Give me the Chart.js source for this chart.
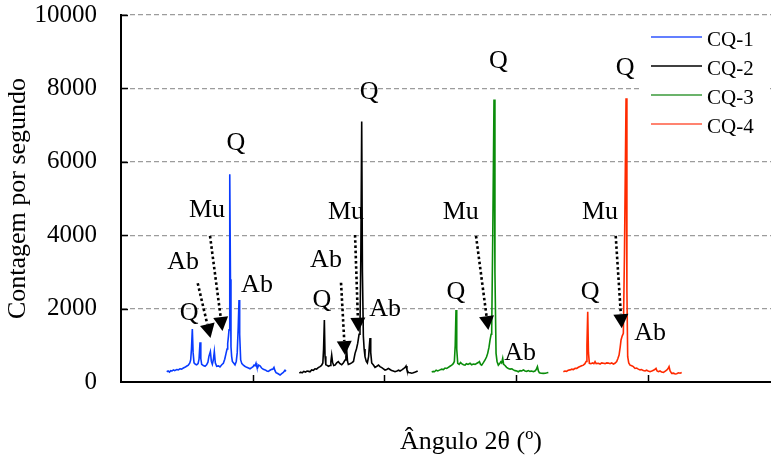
<!DOCTYPE html>
<html><head><meta charset="utf-8">
<script src="https://cdn.jsdelivr.net/npm/chart.js@4.4.1/dist/chart.umd.min.js"></script>
<style>html,body{margin:0;padding:0;background:#fff}#wrap{width:771px;height:458px}</style>
</head><body><div id="wrap"><canvas id="c" width="771" height="458"></canvas></div>
<script>
// ---------------- data ----------------
const seriesNames = ['CQ-1', 'CQ-2', 'CQ-3', 'CQ-4'];
const xOffsets = [0, 20, 40, 60];           // horizontal shift of each pattern (º)
const yTickValues = [0, 2000, 4000, 6000, 8000, 10000];
const xTickValues = [30, 50, 70, 90];

const angleCQ1 = [16.94,17.15,17.35,17.55,17.75,17.95,18.15,18.45,18.70,18.95,19.20,19.47,19.70,19.95,20.22,20.45,20.58,20.70,20.83,20.95,21.09,21.30,21.49,21.70,21.85,22.00,22.12,22.25,22.50,22.76,23.00,23.20,23.35,23.57,23.72,23.87,24.02,24.17,24.32,24.53,24.80,25.03,25.30,25.54,25.75,25.95,26.10,26.20,26.32,26.40,26.48,26.55,26.62,26.70,26.80,26.91,27.10,27.31,27.50,27.65,27.80,27.92,28.02,28.17,28.35,28.58,28.80,29.09,29.35,29.59,29.85,30.05,30.20,30.35,30.50,30.62,30.75,30.90,31.11,31.35,31.61,31.90,32.15,32.37,32.62,32.88,33.05,33.23,33.38,33.54,33.80,34.15,34.40,34.65,34.90,35.05];
const countCQ1 = [280,300,270,310,300,330,310,340,330,360,350,380,400,430,460,520,600,900,1445,800,520,480,470,500,620,1080,640,480,450,430,470,540,700,830,560,480,600,830,520,430,440,410,470,510,620,780,900,1050,1250,1420,3200,5660,2800,960,700,560,520,470,560,800,1500,2235,1300,600,500,460,430,400,380,360,390,420,460,440,510,420,390,460,440,380,345,330,300,290,320,345,350,400,310,255,230,190,230,260,320,290];

const angleCQ2 = [17.08,17.30,17.50,17.75,18.00,18.25,18.50,18.70,18.95,19.20,19.45,19.70,19.95,20.22,20.45,20.65,20.76,20.88,20.98,21.10,21.23,21.50,21.74,21.87,21.99,22.12,22.30,22.50,22.75,23.00,23.25,23.51,23.75,24.02,24.15,24.27,24.40,24.52,24.78,25.03,25.30,25.54,25.75,25.94,26.15,26.29,26.42,26.55,26.66,26.80,26.92,27.05,27.25,27.41,27.60,27.72,27.81,27.92,28.07,28.30,28.57,28.85,29.10,29.33,29.60,29.85,30.09,30.35,30.60,30.85,31.10,31.35,31.61,31.90,32.15,32.37,32.65,32.95,33.15,33.28,33.42,33.63,33.90,34.15,34.39,34.70,35.05];
const countCQ2 = [240,270,250,290,270,300,290,280,330,320,360,350,390,420,450,520,900,1690,700,470,460,430,450,560,735,540,450,460,520,555,500,470,520,600,700,870,560,480,500,520,560,780,900,1050,1300,1510,3500,7095,3000,1250,900,690,560,520,700,1000,1200,800,520,470,400,430,460,420,390,360,327,340,370,340,310,300,280,300,320,300,330,370,400,436,330,260,250,240,250,270,300];

const angleCQ3 = [17.18,17.40,17.60,17.85,18.10,18.44,18.70,18.95,19.20,19.46,19.70,19.95,20.22,20.45,20.62,20.75,20.87,20.98,21.13,21.35,21.55,21.73,22.00,22.24,22.45,22.70,23.00,23.25,23.50,23.76,24.05,24.25,24.42,24.60,24.77,25.00,25.28,25.50,25.68,25.88,26.04,26.20,26.29,26.45,26.64,26.78,26.95,27.10,27.30,27.50,27.66,27.80,27.96,28.10,28.31,28.55,28.82,29.10,29.35,29.58,29.85,30.10,30.34,30.60,30.85,31.10,31.35,31.60,31.86,32.10,32.35,32.62,32.85,33.05,33.23,33.38,33.53,33.80,34.14,34.45,34.70,34.89];
const countCQ3 = [270,290,280,320,300,330,350,340,380,370,400,430,460,500,560,1000,1960,900,510,480,530,500,470,460,500,480,510,470,490,480,510,530,555,480,460,520,600,680,780,950,1145,1300,1415,4000,7700,3000,780,560,460,500,550,520,645,480,450,400,370,350,360,330,310,300,280,310,300,330,300,290,310,290,300,280,300,340,420,300,250,240,235,240,250,260];

const angleCQ4 = [17.17,17.40,17.65,17.90,18.19,18.45,18.70,18.95,19.20,19.45,19.70,19.95,20.21,20.45,20.62,20.75,20.87,20.98,21.12,21.35,21.60,21.80,21.98,22.15,22.49,22.75,23.00,23.25,23.50,23.75,24.01,24.25,24.50,24.77,25.00,25.27,25.45,25.63,25.80,25.93,26.10,26.28,26.45,26.69,26.82,26.94,27.10,27.30,27.55,27.80,28.06,28.30,28.55,28.82,29.05,29.30,29.57,29.80,30.05,30.33,30.60,30.85,31.05,31.24,31.40,31.60,31.85,32.10,32.36,32.60,32.85,33.05,33.22,33.38,33.62,33.90,34.15,34.38,34.65,34.90,35.14];
const countCQ4 = [280,300,290,320,330,350,340,370,370,400,420,440,460,500,560,1000,1915,800,510,500,520,500,555,500,510,490,520,510,500,520,515,500,520,490,510,560,640,735,950,1145,1250,1325,3500,7730,2500,690,520,460,440,420,370,380,350,330,340,310,300,320,300,280,300,320,340,370,300,280,300,270,260,290,320,360,420,300,235,240,220,225,250,240,260];

// peak annotations: series index, text, angle (º, before shift), counts
const peakLabelSeries = [0,0,0,0,0, 1,1,1,1,1, 2,2,2,2, 3,3,3,3];
const peakLabelTexts  = ['Q','Ab','Mu','Q','Ab', 'Q','Ab','Mu','Q','Ab', 'Q','Mu','Q','Ab', 'Q','Mu','Q','Ab'];
const peakLabelAngles = [20.33,19.42,23.06,27.46,30.65, 20.52,21.13,24.17,27.66,30.09, 20.87,21.58,27.30,30.59, 21.22,22.74,26.54,30.33];
const peakLabelCounts = [1880,3270,4690,6515,2645, 2235,3325,4630,7900,1985, 2460,4640,8730,780, 2435,4640,8550,1325];

// dotted arrows: series, start angle/count, end angle/count
const arrowSeries     = [0, 0, 1, 1, 2, 3];
const arrowFromAngle  = [21.65, 23.52, 23.41, 25.54, 23.91, 25.12];
const arrowFromCount  = [2690, 3980, 2705, 4005, 3980, 3980];
const arrowToAngle    = [23.59, 25.41, 24.02, 26.04, 25.78, 26.04];
const arrowToCount    = [1200, 1390, 735, 1370, 1415, 1465];

// ---------------- styles ----------------
const seriesColors = ['#0a3cff', '#000000', '#0a8c0a', '#ff2a00'];
const legendColors = ['#2f55ff', '#000000', '#3a9a3a', '#ff5a40'];
const SERIF = "'Liberation Serif','Times New Roman',serif";

const angles = [angleCQ1, angleCQ2, angleCQ3, angleCQ4];
const counts = [countCQ1, countCQ2, countCQ3, countCQ4];

const datasets = seriesNames.map((name, i) => ({
  label: name,
  data: angles[i].map((a, k) => ({x: a + xOffsets[i], y: counts[i][k]})),
  borderColor: seriesColors[i],
  borderWidth: 1.6,
  pointRadius: 0,
  fill: false,
  tension: 0
}));

const decor = {
  id: 'decor',
  afterDraw(chart) {
    const {ctx, chartArea: ca, scales: {x, y}} = chart;
    ctx.save();
    // inward tick marks
    ctx.strokeStyle = '#000';
    ctx.lineWidth = 1.5;
    y.ticks.forEach(t => {
      if (t.value === 0) return;
      const py = Math.round(y.getPixelForValue(t.value)) + 0.5;
      ctx.beginPath(); ctx.moveTo(ca.left, py); ctx.lineTo(ca.left + 7, py); ctx.stroke();
    });
    x.ticks.forEach(t => {
      const px = Math.round(x.getPixelForValue(t.value)) + 0.5;
      ctx.beginPath(); ctx.moveTo(px, ca.bottom); ctx.lineTo(px, ca.bottom - 7); ctx.stroke();
    });
    // dotted arrows
    arrowSeries.forEach((s, i) => {
      const x0 = x.getPixelForValue(arrowFromAngle[i] + xOffsets[s]);
      const y0 = y.getPixelForValue(arrowFromCount[i]);
      const x1 = x.getPixelForValue(arrowToAngle[i] + xOffsets[s]);
      const y1 = y.getPixelForValue(arrowToCount[i]);
      const ang = Math.atan2(y1 - y0, x1 - x0);
      const len = 14, half = 7.5;
      const bx = x1 - Math.cos(ang) * len, by = y1 - Math.sin(ang) * len;
      ctx.save();
      ctx.strokeStyle = '#000';
      ctx.lineWidth = 2.6;
      ctx.setLineDash([2.6, 2.6]);
      ctx.beginPath(); ctx.moveTo(x0, y0); ctx.lineTo(bx, by); ctx.stroke();
      ctx.setLineDash([]);
      ctx.fillStyle = '#000';
      ctx.beginPath();
      ctx.moveTo(x1, y1);
      ctx.lineTo(bx + Math.sin(ang) * half, by - Math.cos(ang) * half);
      ctx.lineTo(bx - Math.sin(ang) * half, by + Math.cos(ang) * half);
      ctx.closePath(); ctx.fill();
      ctx.restore();
    });
    // peak labels
    ctx.fillStyle = '#000';
    ctx.textAlign = 'center';
    ctx.textBaseline = 'middle';
    peakLabelSeries.forEach((s, i) => {
      ctx.font = '26px ' + SERIF;
      ctx.fillText(peakLabelTexts[i], x.getPixelForValue(peakLabelAngles[i] + xOffsets[s]), y.getPixelForValue(peakLabelCounts[i]));
    });
    // legend
    const lx = ca.right - 130, ly = ca.top + 9;
    ctx.fillStyle = '#fff';
    ctx.fillRect(lx, ly, 126, 116);
    ctx.font = '21px ' + SERIF;
    ctx.textAlign = 'left';
    seriesNames.forEach((n, i) => {
      const yy = ly + 13 + i * 29;
      ctx.strokeStyle = legendColors[i];
      ctx.lineWidth = 1.5;
      ctx.beginPath(); ctx.moveTo(lx + 10, yy); ctx.lineTo(lx + 61, yy); ctx.stroke();
      ctx.fillStyle = '#000';
      ctx.fillText(n, lx + 66, yy + 3);
    });
    // x axis title
    ctx.font = '26px ' + SERIF;
    ctx.textAlign = 'center';
    ctx.textBaseline = 'middle';
    ctx.fillText('Ângulo 2θ (º)', (ca.left + ca.right) / 2 + 25, 442);
    ctx.restore();
  }
};

new Chart(document.getElementById('c'), {
  type: 'line',
  data: {datasets},
  options: {
    responsive: false,
    animation: false,
    events: [],
    layout: {padding: {top: 15, right: 0, left: 0, bottom: 0}},
    plugins: {legend: {display: false}, tooltip: {enabled: false}},
    scales: {
      x: {
        type: 'linear',
        min: 10,
        max: 108.7,
        afterBuildTicks: s => { s.ticks = xTickValues.map(v => ({value: v})); },
        afterFit: s => { s.height = 76; s.paddingLeft = 0; s.paddingRight = 0; },
        ticks: {display: false},
        grid: {display: false},
        border: {display: true, color: '#000', width: 2}
      },
      y: {
        min: 0,
        max: 10000,
        afterBuildTicks: s => { s.ticks = yTickValues.map(v => ({value: v})); },
        afterFit: s => { s.width = 121; s.paddingTop = 0; s.paddingBottom = 0; },
        ticks: {color: '#000', padding: 24, font: {family: SERIF, size: 25}, callback: v => String(v)},
        grid: {
          drawTicks: false,
          color: c => (c.tick && c.tick.value === 0) ? 'rgba(0,0,0,0)' : '#9c9c9c',
          lineWidth: 1.2
        },
        border: {display: true, color: '#000', width: 2, dash: [5, 3]},
        title: {display: true, text: 'Contagem por segundo', color: '#000', padding: {top: 3, bottom: 0}, font: {family: SERIF, size: 26}}
      }
    }
  },
  plugins: [decor]
});
</script>
</body></html>
